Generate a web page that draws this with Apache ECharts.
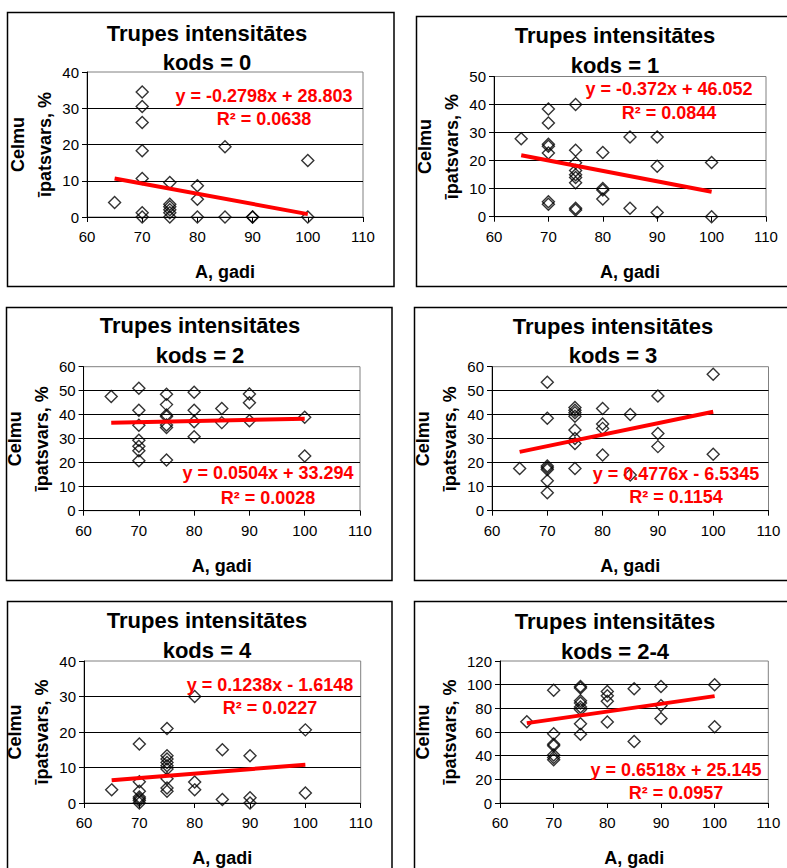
<!DOCTYPE html>
<html>
<head>
<meta charset="utf-8">
<script src="https://cdn.jsdelivr.net/npm/echarts@6/dist/echarts.min.js"></script>
<style>html,body{margin:0;padding:0;background:#fff;}#c{width:787px;height:868px;}</style>
</head>
<body>
<div id="c"></div>
<script>
// ---- data ----
const panelCodes = ['0', '1', '2', '3', '4', '2-4'];
const titleLine1 = 'Trupes intensitātes';
const xAxisTitle = 'A, gadi';
const yAxisTitle = 'Celmu\nīpatsvars, %';
const xTicks = [60, 70, 80, 90, 100, 110];
const yMaxes = [40, 50, 60, 60, 40, 120];
const ySteps = [10, 10, 10, 10, 10, 20];

const xKods0 = [65, 70,70,70,70,70,70,70, 75,75,75,75,75,75, 80,80,80, 85,85, 90,90, 100,100];
const yKods0 = [4, 34.5,30.5,26.1,18.3,10.6,1.2,0, 9.5,3.5,2.8,2,1.2,0, 8.6,4.9,0, 19.4,0, 0,0, 15.6,0];

const xKods1 = [65, 70,70,70,70,70,70,70, 75,75,75,75,75,75,75,75,75, 80,80,80,80, 85,85, 90,90,90, 100,100];
const yKods1 = [27.8, 38.4,33.4,25.8,25.1,22.7,5.3,4.4, 40,23.7,19.2,16.5,15,14,12.1,3,2.4, 22.9,10.1,9.5,6.3, 28.4,3, 28.4,18,1.5, 19.3,0];

const xKods2 = [65, 70,70,70,70,70,70,70, 75,75,75,75,75,75,75, 80,80,80,80, 85,85, 90,90,90, 100,100];
const yKods2 = [47.6, 51,41.9,35.6,29.4,26.9,25,20.8, 48.5,44.2,39.9,39.2,35.7,34.7,21.1, 49.4,41.9,37.1,30.8, 42.6,36.7, 48.6,45,37.5, 38.9,22.8];

const xKods3 = [65, 70,70,70,70,70,70,70, 75,75,75,75,75,75,75,75, 80,80,80,80, 85,85, 90,90,90, 100,100];
const yKods3 = [17.6, 53.5,38.5,18.6,17.9,17.2,12.5,7.5, 43,41.9,40.8,39.4,33.6,30.1,28,17.6, 42.6,36.1,34.3,23.2, 40.1,14.9, 47.8,32.2,26.7, 56.9,23.5];

const xKods4 = [65, 70,70,70,70,70,70,70, 75,75,75,75,75,75,75,75,75, 80,80,80, 85,85, 90,90,90, 100,100];
const yKods4 = [3.7, 16.6,6,3.3,1.7,1.2,0.7,0, 21,13.3,12.4,11.4,10.5,9.6,6.8,4.2,3.3, 30,5.9,3.7, 15,1, 13.3,1.5,0, 20.6,2.8];

const xKods24 = [65, 70,70,70,70,70,70,70, 75,75,75,75,75,75,75,75, 80,80,80,80, 85,85, 90,90,90, 100,100];
const yKods24 = [68.7, 95.2,58.6,49.7,48.3,40.5,38.5,36.6, 98.5,97.1,86.5,84.6,81.2,79,67,58, 94.3,90.7,86,68.4, 96.6,51.9, 98.5,82.3,71.4, 100,64.5];

const trendX = [65, 100];
const trendY0 = [10.6, 0.8];
const trendY1 = [21.9, 8.9];
const trendY2 = [36.6, 38.3];
const trendY3 = [24.5, 41.2];
const trendY4 = [6.4, 10.8];
const trendY24 = [67.5, 90.3];

const eqLines = ['y = -0.2798x + 28.803', 'y = -0.372x + 46.052', 'y = 0.0504x + 33.294', 'y = 0.4776x - 6.5345', 'y = 0.1238x - 1.6148', 'y = 0.6518x + 25.145'];
const r2Lines = ['R² = 0.0638', 'R² = 0.0844', 'R² = 0.0028', 'R² = 0.1154', 'R² = 0.0227', 'R² = 0.0957'];

// ---- layout (pixels) ----
const xsAll = [xKods0, xKods1, xKods2, xKods3, xKods4, xKods24];
const ysAll = [yKods0, yKods1, yKods2, yKods3, yKods4, yKods24];
const trendsAll = [trendY0, trendY1, trendY2, trendY3, trendY4, trendY24];

const grids = [
  {left: 87, top: 72, width: 276, height: 145},
  {left: 494, top: 76.5, width: 272, height: 140.2},
  {left: 83, top: 366.7, width: 277, height: 144},
  {left: 492, top: 366.7, width: 276.5, height: 144},
  {left: 84, top: 661, width: 276.7, height: 143.3},
  {left: 500, top: 661, width: 268.3, height: 143.3}
];
const frames = [
  [7.5, 12.5, 386.5, 274], [416.5, 16.5, 400, 270], [6.5, 307.5, 385.5, 273],
  [414.5, 307.5, 400, 273], [7.5, 601.5, 384.5, 300], [414.5, 601.5, 400, 300]
];
const titlePos = [[207, 33, 62], [615, 35, 65], [200, 325, 355], [613, 326, 355], [207, 620, 650], [615, 621, 651]];
const eqPos = [[264, 96, 119], [669, 89, 113], [268, 473, 498], [676, 474, 497], [270, 685, 708], [676, 770, 793]];

const FF = '"Liberation Sans", Arial, Helvetica, sans-serif';

const option = {
  animation: false,
  backgroundColor: '#fff',
  grid: [], xAxis: [], yAxis: [], series: [], graphic: []
};

for (let i = 0; i < 6; i++) {
  option.grid.push(Object.assign({show: true, backgroundColor: '#fff', borderColor: '#808080', borderWidth: 1, containLabel: false}, grids[i]));
  option.xAxis.push({
    gridIndex: i, type: 'value', min: xTicks[0], max: xTicks[xTicks.length - 1], interval: 10,
    axisLine: {show: true, onZero: false, lineStyle: {color: '#000', width: 1}},
    axisTick: {show: true, inside: false, length: 5, lineStyle: {color: '#000'}},
    axisLabel: {fontSize: 15, color: '#000', fontFamily: FF, margin: 12},
    splitLine: {show: false},
    name: xAxisTitle, nameLocation: 'middle', nameGap: 46,
    nameTextStyle: {fontSize: 18, fontWeight: 'bold', color: '#000', fontFamily: FF}
  });
  option.yAxis.push({
    gridIndex: i, type: 'value', min: 0, max: yMaxes[i], interval: ySteps[i],
    axisLine: {show: true, onZero: false, lineStyle: {color: '#000', width: 1}},
    axisTick: {show: true, inside: false, length: 5, lineStyle: {color: '#000'}},
    axisLabel: {fontSize: 15, color: '#000', fontFamily: FF, margin: 8},
    splitLine: {show: true, showMaxLine: false, lineStyle: {color: '#000', width: 1}},
    name: yAxisTitle, nameLocation: 'middle', nameRotate: 90, nameGap: 18,
    nameTextStyle: {fontSize: 18, fontWeight: 'bold', color: '#000', fontFamily: FF, lineHeight: 27, align: 'center'}
  });
  option.series.push({
    type: 'scatter', xAxisIndex: i, yAxisIndex: i, z: 3,
    symbol: 'diamond', symbolSize: 12,
    itemStyle: {color: 'rgba(0,0,0,0)', borderColor: '#000', borderWidth: 1.4},
    data: xsAll[i].map((x, j) => [x, ysAll[i][j]])
  });
  option.series.push({
    type: 'line', xAxisIndex: i, yAxisIndex: i, z: 4,
    showSymbol: false, symbol: 'none',
    lineStyle: {color: '#ff0000', width: 4},
    data: trendX.map((x, j) => [x, trendsAll[i][j]])
  });
  const f = frames[i];
  option.graphic.push({type: 'rect', z: 100, silent: true, shape: {x: f[0], y: f[1], width: f[2], height: f[3]}, style: {fill: 'none', stroke: '#000', lineWidth: 1.5}});
  const t = titlePos[i];
  option.graphic.push({type: 'text', z: 100, x: t[0], y: t[1], style: {text: titleLine1, font: 'bold 22px ' + FF, fill: '#000', align: 'center', verticalAlign: 'middle', textAlign: 'center', textVerticalAlign: 'middle'}});
  option.graphic.push({type: 'text', z: 100, x: t[0], y: t[2], style: {text: 'kods = ' + panelCodes[i], font: 'bold 22px ' + FF, fill: '#000', align: 'center', verticalAlign: 'middle', textAlign: 'center', textVerticalAlign: 'middle'}});
  const e = eqPos[i];
  option.graphic.push({type: 'text', z: 100, x: e[0], y: e[1], style: {text: eqLines[i], font: 'bold 18px ' + FF, fill: '#ff0000', align: 'center', verticalAlign: 'middle', textAlign: 'center', textVerticalAlign: 'middle'}});
  option.graphic.push({type: 'text', z: 100, x: e[0], y: e[2], style: {text: r2Lines[i], font: 'bold 18px ' + FF, fill: '#ff0000', align: 'center', verticalAlign: 'middle', textAlign: 'center', textVerticalAlign: 'middle'}});
}

const chart = echarts.init(document.getElementById('c'), null, {renderer: 'svg', width: 787, height: 868});
chart.setOption(option);
</script>
</body>
</html>
